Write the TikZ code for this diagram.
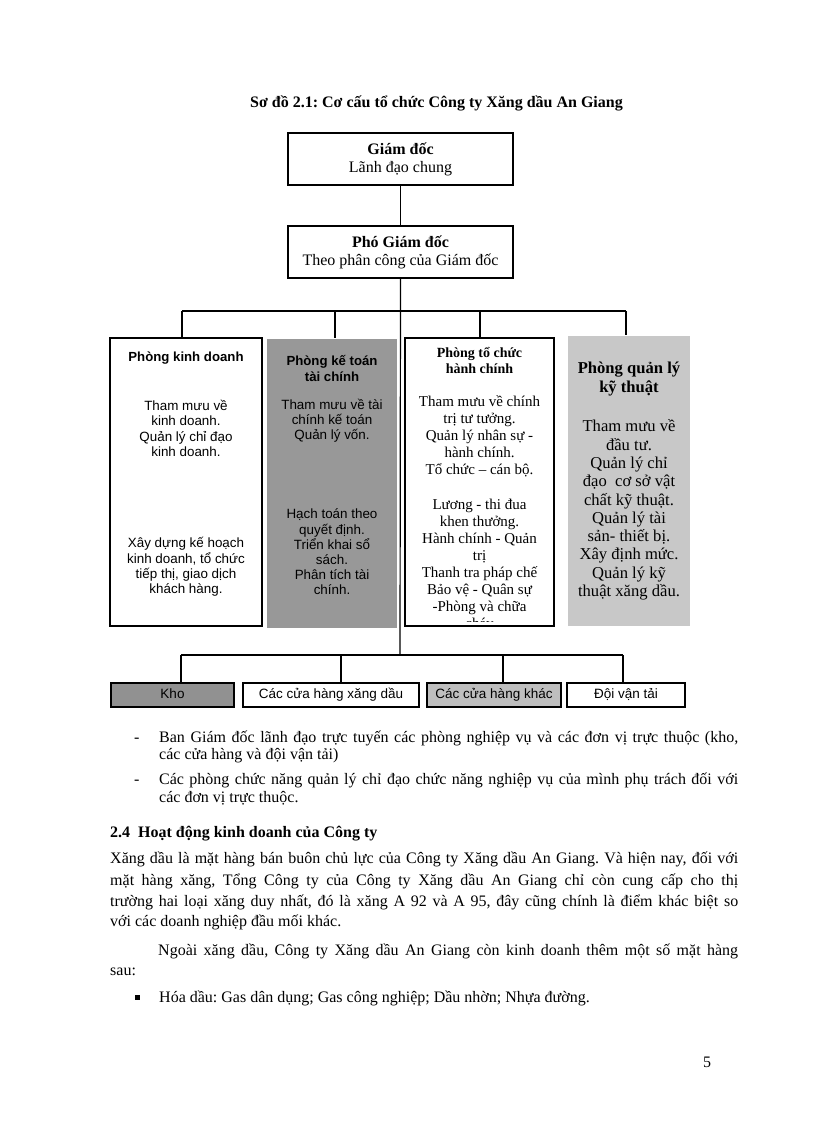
\documentclass[tikz,border=0pt]{standalone}
\usepackage{fontspec}
\setmainfont{Liberation Serif}
\newfontfamily\arialfont{Liberation Sans}
\definecolor{darkgr}{RGB}{152,152,152}
\definecolor{lightgr}{RGB}{200,200,200}
\definecolor{khogr}{RGB}{145,145,145}
\definecolor{khacgr}{RGB}{190,190,190}
\frenchspacing
\begin{document}
\begin{tikzpicture}[x=1pt,y=-1pt,
  topbox/.style={draw=black,line width=1.4pt,minimum width=225pt,minimum height=52pt,align=center,inner sep=0pt,font=\fontsize{16}{18}\selectfont},
  deptbox/.style={line width=1.4pt,inner sep=0pt},
  unitbox/.style={draw=black,line width=1.2pt,minimum height=24pt,inner sep=0pt,text height=10pt,text depth=3pt,font=\arialfont\fontsize{13.5}{15}\selectfont},
  conn/.style={line width=1.2pt},
  sanstxt/.style={font=\arialfont\fontsize{13.4}{15.2}\selectfont,align=center,inner sep=0pt},
  timestxt/.style={font=\fontsize{15}{17}\selectfont,align=center,inner sep=0pt},
  bigtxt/.style={font=\fontsize{16.6}{18.3}\selectfont,align=center,inner sep=0pt},
  body/.style={font=\fontsize{16}{18}\selectfont,inner sep=0pt,anchor=base west}
]
\fill[white] (0,0) rectangle (816,1123);
\useasboundingbox (0,0) rectangle (816,1123);

% title
\node[font=\bfseries\fontsize{16}{18}\selectfont,inner sep=0pt] (title) at (436.5,103) {Sơ đồ 2.1: Cơ cấu tổ chức Công ty Xăng dầu An Giang};

% top boxes
\node[topbox] (gd) at (400.5,159) {\textbf{Giám đốc}\\Lãnh đạo chung};
\node[topbox] (pgd) at (400.5,252) {\textbf{Phó Giám đốc}\\Theo phân công của Giám đốc};

% department boxes
\node[deptbox,draw=black,minimum width=152pt,minimum height=288pt] (d1) at (186,482) {};
\node[deptbox,fill=darkgr,minimum width=130pt,minimum height=289pt] (d2) at (332,483.5) {};
\node[deptbox,draw=black,minimum width=149pt,minimum height=288pt] (d3) at (479.5,482) {};
\node[deptbox,fill=lightgr,minimum width=122pt,minimum height=290pt] (d4) at (629,481) {};

% bottom units
\node[unitbox,fill=khogr,minimum width=123pt] (u1) at (172.5,695) {Kho};
\node[unitbox,minimum width=176pt] (u2) at (331,695) {Các cửa hàng xăng dầu};
\node[unitbox,fill=khacgr,minimum width=134pt] (u3) at (494,695) {Các cửa hàng khác};
\node[unitbox,minimum width=118pt] (u4) at (626,695) {Đội vận tải};

% connectors
\coordinate (t1) at (182,311);
\coordinate (t2) at (335,311);
\coordinate (t3) at (480,311);
\coordinate (t4) at (626,311);
\coordinate (b0) at (400,655);
\coordinate (b1) at (181,655);
\coordinate (b2) at (341,655);
\coordinate (b3) at (503,655);
\coordinate (b4) at (623,655);
\draw[conn] (gd.south) -- (pgd.north);
\draw[conn] (pgd.south) -- (b0);
\draw[conn] (t1) -- (t4);
\draw[conn] (t1) -- (t1 |- d1.north);
\draw[conn] (t2) -- (t2 |- d2.north);
\draw[conn] (t3) -- (t3 |- d3.north);
\draw[conn] (t4) -- (t4 |- d4.north);
\draw[conn] (b1) -- (b4);
\draw[conn] (b1) -- (b1 |- u1.north);
\draw[conn] (b2) -- (b2 |- u2.north);
\draw[conn] (b3) -- (b3 |- u3.north);
\draw[conn] (b4) -- (b4 |- u4.north);

% box 1 text
\node[sanstxt,font=\arialfont\bfseries\fontsize{13.2}{15.2}\selectfont] (d1t) at (186,358) {Phòng kinh doanh};
\node[sanstxt] (d1a) at (186,428.5) {Tham mưu về\\kinh doanh.\\Quản lý chỉ đạo\\kinh doanh.};
\node[sanstxt] (d1b) at (186,567) {Xây dựng kế hoạch\\kinh doanh, tổ chức\\tiếp thị, giao dịch\\khách hàng.};

% box 2 text
\node[sanstxt,font=\arialfont\bfseries\fontsize{13.2}{16}\selectfont] (d2t) at (332,368) {Phòng kế toán\\tài chính};
\node[sanstxt] (d2a) at (332,421) {Tham mưu về tài\\chính kế toán\\Quản lý vốn.};
\node[sanstxt] (d2b) at (332,552) {Hạch toán theo\\quyết định.\\Triển khai sổ\\sách.\\Phân tích tài\\chính.};

% box 3 text
\node[timestxt,font=\bfseries\fontsize{14}{16}\selectfont] (d3t) at (479.5,360) {Phòng tổ chức\\hành chính};
\node[timestxt] (d3a) at (479.5,436.5) {Tham mưu về chính\\trị tư tưởng.\\Quản lý nhân sự -\\hành chính.\\Tổ chức – cán bộ.};
\begin{scope}
\clip (405,339) rectangle (554,621);
\node[timestxt,anchor=north] (d3b) at (479.5,499) {Lương - thi đua\\khen thưởng.\\Hành chính - Quản\\trị\\Thanh tra pháp chế\\Bảo vệ - Quân sự\\-Phòng và chữa\\cháy};
\end{scope}

% box 4 text
\node[bigtxt,font=\bfseries\fontsize{16.6}{19}\selectfont] (d4t) at (629,379.5) {Phòng quản lý\\kỹ thuật};
\node[bigtxt] (d4a) at (629,510) {Tham mưu về\\đầu tư.\\Quản lý chỉ\\đạo\ \ cơ sở vật\\chất kỹ thuật.\\Quản lý tài\\sản- thiết bị.\\Xây định mức.\\Quản lý kỹ\\thuật xăng dầu.};

% body text
\node[body] (m1) at (134,742) {-};
\node[body] (l1) at (159,742) {\makebox[579pt][s]{Ban Giám đốc lãnh đạo trực tuyến các phòng nghiệp vụ và các đơn vị trực thuộc (kho,}};
\node[body] (l2) at (159,759) {các cửa hàng và đội vận tải)};
\node[body] (m2) at (134,784) {-};
\node[body] (l3) at (159,784) {\makebox[579pt][s]{Các phòng chức năng quản lý chỉ đạo chức năng nghiệp vụ của mình phụ trách đối với}};
\node[body] (l4) at (159,802) {các đơn vị trực thuộc.};

\node[body,font=\bfseries\fontsize{16}{18}\selectfont] (h24) at (110,837) {2.4\hspace{8pt}Hoạt động kinh doanh của Công ty};

\node[body] (p1) at (110,863) {\makebox[628pt][s]{Xăng dầu là mặt hàng bán buôn chủ lực của Công ty Xăng dầu An Giang. Và hiện nay, đối với}};
\node[body] (p2) at (110,885) {\makebox[628pt][s]{mặt hàng xăng, Tổng Công ty của Công ty Xăng dầu An Giang chỉ còn cung cấp cho thị}};
\node[body] (p3) at (110,906) {\makebox[628pt][s]{trường hai loại xăng duy nhất, đó là xăng A 92 và A 95, đây cũng chính là điểm khác biệt so}};
\node[body] (p4) at (110,926) {với các doanh nghiệp đầu mối khác.};

\node[body] (p5) at (158,955) {\makebox[580pt][s]{Ngoài xăng dầu, Công ty Xăng dầu An Giang còn kinh doanh thêm một số mặt hàng}};
\node[body] (p6) at (110,975) {sau:};

\node[fill=black,minimum size=5pt,inner sep=0pt] (sq) at (137,997) {};
\node[body] (p7) at (159,1002) {Hóa dầu: Gas dân dụng; Gas công nghiệp; Dầu nhờn; Nhựa đường.};

\node[body] (pg) at (703,1067) {5};
\end{tikzpicture}
\end{document}
